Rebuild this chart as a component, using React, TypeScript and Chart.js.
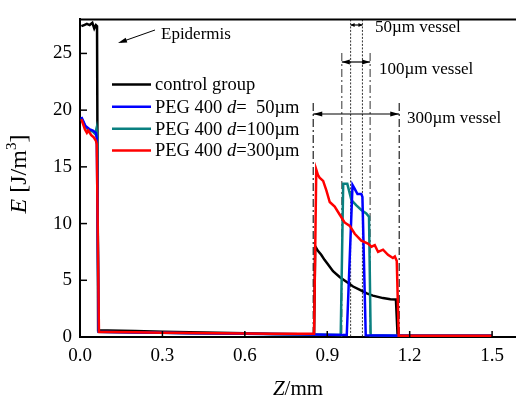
import { useEffect, useRef } from "react";
import { Chart, registerables } from "chart.js";
Chart.register(...registerables);

// ---- data (Z in mm, E in J/m^3) ----
const controlZ = [0.005, 0.015, 0.025, 0.035, 0.045, 0.052, 0.058, 0.062, 0.066, 0.1, 0.2, 0.3, 0.4, 0.5, 0.6, 0.7, 0.8, 0.852, 0.856, 0.866, 0.878, 0.89, 0.903, 0.921, 0.946, 0.971, 0.994, 1.019, 1.044, 1.066, 1.103, 1.13, 1.15, 1.156, 1.2, 1.3, 1.4, 1.5];
const controlE = [27.4, 27.5, 27.6, 27.5, 27.7, 27.2, 27.5, 27.4, 0.6, 0.58, 0.52, 0.47, 0.42, 0.37, 0.32, 0.27, 0.24, 0.22, 8.0, 7.6, 7.25, 6.8, 6.4, 5.8, 5.27, 4.84, 4.45, 4.16, 3.85, 3.65, 3.43, 3.32, 3.3, 0.12, 0.1, 0.1, 0.1, 0.1];

const d50Z = [0.005, 0.02, 0.036, 0.047, 0.058, 0.061, 0.068, 0.1, 0.2, 0.3, 0.4, 0.5, 0.6, 0.7, 0.8, 0.9, 0.971, 0.992, 1.0, 1.01, 1.024, 1.028, 1.04, 1.1, 1.2, 1.3, 1.4, 1.5];
const d50E = [19.4, 18.6, 18.3, 18.2, 18.0, 17.5, 0.45, 0.43, 0.4, 0.37, 0.34, 0.31, 0.28, 0.26, 0.24, 0.2, 0.18, 13.4, 13.06, 12.6, 12.6, 12.35, 0.15, 0.14, 0.12, 0.12, 0.12, 0.12];

const d100Z = [0.005, 0.02, 0.036, 0.047, 0.055, 0.06, 0.062, 0.068, 0.1, 0.2, 0.3, 0.4, 0.5, 0.6, 0.7, 0.8, 0.9, 0.949, 0.958, 0.973, 0.988, 1.006, 1.024, 1.042, 1.052, 1.058, 1.1, 1.2, 1.3, 1.4, 1.5];
const d100E = [19.3, 18.5, 18.2, 18.1, 17.9, 18.4, 17.8, 0.45, 0.43, 0.4, 0.37, 0.34, 0.31, 0.28, 0.26, 0.24, 0.2, 0.18, 13.5, 13.5, 12.06, 11.6, 11.2, 10.9, 10.6, 0.15, 0.14, 0.12, 0.12, 0.12, 0.12];

const d300Z = [0.005, 0.018, 0.025, 0.03, 0.041, 0.05, 0.058, 0.061, 0.069, 0.1, 0.2, 0.3, 0.4, 0.5, 0.6, 0.7, 0.8, 0.852, 0.86, 0.866, 0.872, 0.885, 0.897, 0.909, 0.927, 0.945, 0.963, 0.982, 1.0, 1.024, 1.048, 1.061, 1.073, 1.085, 1.103, 1.121, 1.139, 1.146, 1.153, 1.16, 1.2, 1.3, 1.4, 1.5];
const d300E = [19.2, 18.3, 18.0, 18.2, 17.8, 17.6, 17.3, 17.0, 0.45, 0.44, 0.41, 0.38, 0.35, 0.33, 0.31, 0.29, 0.28, 0.28, 14.76, 14.3, 14.05, 13.76, 12.9, 11.9, 11.5, 10.8, 10.1, 9.8, 9.1, 8.5, 8.24, 7.96, 8.1, 7.5, 7.7, 7.25, 6.97, 7.1, 6.7, 0.1, 0.1, 0.1, 0.1, 0.1];

const xTickValues = [0, 0.3, 0.6, 0.9, 1.2, 1.5];
const yTickValues = [0, 5, 10, 15, 20, 25];

// vessel boundary positions (mm)
const vessel50 = [0.985, 1.028];
const vessel100 = [0.953, 1.056];
const vessel300 = [0.849, 1.162];

const legendLabels = ["control group", "PEG 400 d= 50µm", "PEG 400 d=100µm", "PEG 400 d=300µm"];
const colors = ["#000000", "#0000ff", "#0a8080", "#ff0000"];

const SERIF = '"Liberation Serif", "Times New Roman", serif';

function toPts(zs: number[], es: number[]) {
  return zs.map((z, i) => ({ x: z, y: es[i] }));
}

function arrowHead(ctx: CanvasRenderingContext2D, x: number, y: number, dx: number, dy: number, len: number, half: number) {
  const n = Math.hypot(dx, dy);
  const ux = dx / n, uy = dy / n;
  ctx.beginPath();
  ctx.moveTo(x, y);
  ctx.lineTo(x - ux * len - uy * half, y - uy * len + ux * half);
  ctx.lineTo(x - ux * len + uy * half, y - uy * len - ux * half);
  ctx.closePath();
  ctx.fill();
}

function dblArrow(ctx: CanvasRenderingContext2D, x1: number, x2: number, y: number, len: number, half: number) {
  ctx.beginPath();
  ctx.moveTo(x1, y);
  ctx.lineTo(x2, y);
  ctx.stroke();
  arrowHead(ctx, x1, y, -1, 0, len, half);
  arrowHead(ctx, x2, y, 1, 0, len, half);
}

const overlay = {
  id: "overlay",
  beforeDatasetsDraw(chart: any) {
    const { ctx, chartArea: a, scales } = chart;
    const x = scales.x;
    ctx.save();
    ctx.strokeStyle = "#333";
    ctx.lineWidth = 1;
    ctx.setLineDash([2, 1.5]);
    vessel50.forEach((v) => {
      const px = x.getPixelForValue(v);
      ctx.beginPath();
      ctx.moveTo(px, a.top);
      ctx.lineTo(px, a.bottom);
      ctx.stroke();
    });
    ctx.setLineDash([8, 3, 2, 3]);
    vessel100.forEach((v) => {
      const px = x.getPixelForValue(v);
      ctx.beginPath();
      ctx.moveTo(px, 53);
      ctx.lineTo(px, a.bottom);
      ctx.stroke();
    });
    ctx.lineWidth = 1.3;
    vessel300.forEach((v) => {
      const px = x.getPixelForValue(v);
      ctx.beginPath();
      ctx.moveTo(px, 103);
      ctx.lineTo(px, a.bottom);
      ctx.stroke();
    });
    ctx.restore();
  },
  afterDraw(chart: any) {
    const { ctx, chartArea: a, scales } = chart;
    const x = scales.x, y = scales.y;
    ctx.save();
    ctx.strokeStyle = "#000";
    ctx.fillStyle = "#000";
    ctx.lineWidth = 2;
    ctx.beginPath();
    ctx.moveTo(a.left - 1, a.top);
    ctx.lineTo(a.right, a.top);
    ctx.stroke();
    ctx.lineWidth = 1.5;
    xTickValues.forEach((v) => {
      const px = x.getPixelForValue(v);
      ctx.beginPath();
      ctx.moveTo(px, a.bottom);
      ctx.lineTo(px, a.bottom - 6);
      ctx.stroke();
    });
    yTickValues.forEach((v) => {
      const py = y.getPixelForValue(v);
      ctx.beginPath();
      ctx.moveTo(a.left, py);
      ctx.lineTo(a.left + 7, py);
      ctx.stroke();
    });

    ctx.lineWidth = 1.2;
    const p = (v: number) => x.getPixelForValue(v);
    dblArrow(ctx, p(vessel50[0]), p(vessel50[1]), 25, 4, 2);
    dblArrow(ctx, p(vessel100[0]), p(vessel100[1]), 62, 8, 2.5);
    dblArrow(ctx, p(vessel300[0]), p(vessel300[1]), 114, 9, 2.5);

    ctx.font = `17px ${SERIF}`;
    ctx.textAlign = "left";
    ctx.textBaseline = "alphabetic";
    ctx.fillText("50µm vessel", 375, 32);
    ctx.fillText("100µm vessel", 379, 74);
    ctx.fillText("300µm vessel", 407, 123);

    ctx.fillText("Epidermis", 161, 39);
    ctx.lineWidth = 1;
    ctx.beginPath();
    ctx.moveTo(155, 30);
    ctx.lineTo(121, 42);
    ctx.stroke();
    arrowHead(ctx, 118, 43, -37, 13, 9, 2.5);

    const rows = [84.5, 106.7, 128.8, 150.5];
    const LF = 18.5;
    rows.forEach((ry, i) => {
      ctx.strokeStyle = colors[i];
      ctx.lineWidth = 2.5;
      ctx.beginPath();
      ctx.moveTo(112, ry);
      ctx.lineTo(151, ry);
      ctx.stroke();
      ctx.fillStyle = "#000";
      ctx.textBaseline = "middle";
      const lbl = legendLabels[i];
      const ty = ry + 1;
      if (i === 0) {
        ctx.font = `${LF}px ${SERIF}`;
        ctx.fillText(lbl, 155, ty);
      } else {
        let cx = 155;
        ctx.font = `${LF}px ${SERIF}`;
        ctx.fillText("PEG 400 ", cx, ty);
        cx += ctx.measureText("PEG 400 ").width;
        ctx.font = `italic ${LF}px ${SERIF}`;
        ctx.fillText("d", cx, ty);
        cx += ctx.measureText("d").width;
        ctx.font = `${LF}px ${SERIF}`;
        const rest = lbl.split("=")[1].trim();
        ctx.fillText("=", cx, ty);
        cx += ctx.measureText("=").width;
        if (rest.length < 5) cx += ctx.measureText("1").width;
        ctx.fillText(rest, cx, ty);
      }
    });

    ctx.fillStyle = "#000";
    ctx.textBaseline = "alphabetic";
    {
      const f1 = `italic 21px ${SERIF}`;
      const f2 = `21px ${SERIF}`;
      ctx.font = f1;
      const w1 = ctx.measureText("Z").width;
      ctx.font = f2;
      const w2 = ctx.measureText("/mm").width;
      const sx = (a.left + a.right) / 2 - (w1 + w2) / 2;
      ctx.font = f1;
      ctx.fillText("Z", sx, 395);
      ctx.font = f2;
      ctx.fillText("/mm", sx + w1, 395);
    }
    {
      ctx.save();
      ctx.translate(26, 174);
      ctx.rotate(-Math.PI / 2);
      const parts: [string, string, number][] = [
        ["E", `italic 24px ${SERIF}`, 0],
        [" [J/m", `24px ${SERIF}`, 0],
        ["3", `15px ${SERIF}`, -10],
        ["]", `24px ${SERIF}`, 0],
      ];
      let total = 0;
      parts.forEach(([t, f]) => {
        ctx.font = f;
        total += ctx.measureText(t).width;
      });
      let cx = -total / 2;
      parts.forEach(([t, f, dy]) => {
        ctx.font = f;
        ctx.fillText(t, cx, dy);
        cx += ctx.measureText(t).width;
      });
      ctx.restore();
    }
    ctx.restore();
  },
};

export default function App() {
  const ref = useRef<HTMLCanvasElement | null>(null);
  useEffect(() => {
    if (!ref.current) return;
    const mk = (zs: number[], es: number[], i: number, order: number) => ({
      label: legendLabels[i],
      data: toPts(zs, es),
      borderColor: colors[i],
      backgroundColor: colors[i],
      borderWidth: 2.5,
      pointRadius: 0,
      tension: 0,
      fill: false,
      order,
    });
    const chart = new Chart(ref.current, {
      type: "line",
      data: {
        datasets: [
          mk(controlZ, controlE, 0, 3),
          mk(d50Z, d50E, 1, 1),
          mk(d100Z, d100E, 2, 2),
          mk(d300Z, d300E, 3, 0),
        ],
      },
      options: {
        animation: false,
        responsive: false,
        parsing: false,
        layout: { padding: { top: 7, right: 0, left: 0, bottom: 0 } },
        plugins: { legend: { display: false }, tooltip: { enabled: false } },
        scales: {
          x: {
            type: "linear",
            min: 0,
            max: 1.587,
            afterFit: (s: any) => {
              s.height = 63;
            },
            afterBuildTicks: (s: any) => {
              s.ticks = xTickValues.map((v) => ({ value: v }));
            },
            grid: { display: false, drawTicks: false },
            border: { display: true, color: "#000", width: 2 },
            ticks: {
              color: "#000",
              padding: 8,
              maxRotation: 0,
              font: { family: SERIF, size: 19 },
              callback: (v: any) => Number(v).toFixed(1),
            },
          },
          y: {
            type: "linear",
            min: 0,
            max: 28,
            afterFit: (s: any) => {
              s.width = 80;
            },
            afterBuildTicks: (s: any) => {
              s.ticks = yTickValues.map((v) => ({ value: v }));
            },
            grid: { display: false, drawTicks: false },
            border: { display: true, color: "#000", width: 2 },
            ticks: {
              color: "#000",
              padding: 8,
              font: { family: SERIF, size: 19 },
              callback: (v: any) => String(v),
            },
          },
        },
      },
      plugins: [overlay],
    });
    return () => chart.destroy();
  }, []);
  return (
    <div style={{ position: "absolute", left: 0, top: 0, width: 516, height: 400, background: "#fff" }}>
      <canvas ref={ref} width={516} height={400} style={{ display: "block" }} />
    </div>
  );
}
